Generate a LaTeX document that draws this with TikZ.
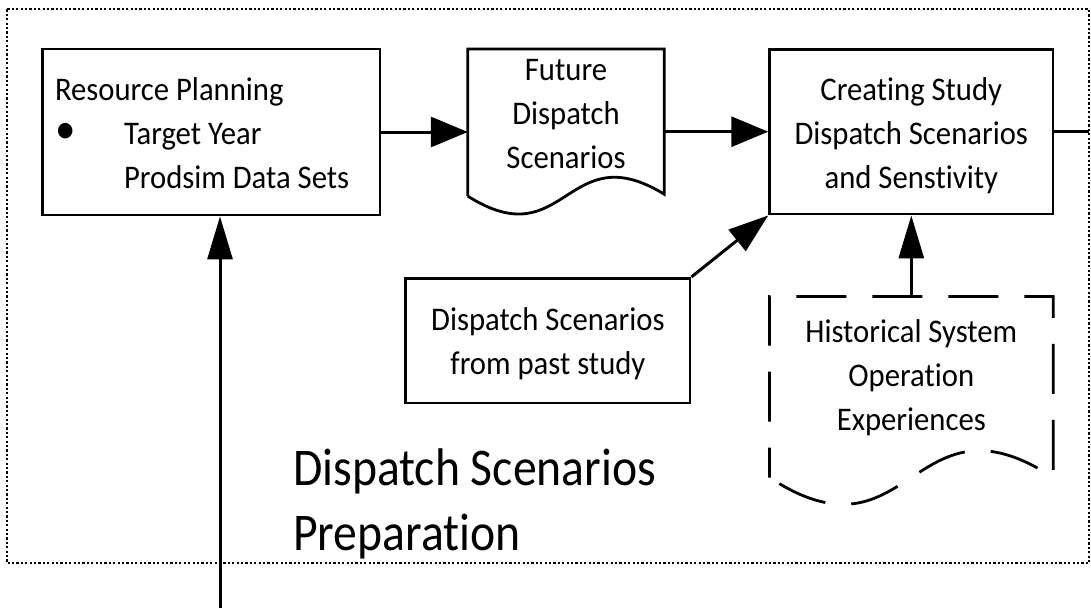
\documentclass[tikz,border=0pt]{standalone}
\usepackage{fontspec}
\setmainfont{Carlito}[FakeStretch=0.93, Ligatures=NoCommon]
\newfontfamily\titlefont{Carlito}[FakeStretch=0.9, Ligatures=NoCommon]
\usetikzlibrary{arrows.meta}
% fixed top and bottom struts so each text block sits where it should
\newcommand{\topstrut}{\rule{0pt}{30pt}}
\newcommand{\botstrut}[1]{\rule[-#1]{0pt}{#1}}
\begin{document}
\begin{tikzpicture}[x=1pt,y=-1pt,
  boxfont/.style={font=\fontsize{33}{44}\selectfont},
  procbox/.style={draw, line width=2.8pt, rectangle, boxfont, align=center,
    inner sep=0pt},
  docbox/.style={rectangle, boxfont, align=center, inner sep=0pt},
  flow/.style={line width=3pt},
  harrow/.style={flow, -{Triangle[length=37pt,width=30pt]}},
  varrow/.style={flow, -{Triangle[length=43pt,width=25pt]}},
  darrow/.style={flow, -{Triangle[length=40pt,width=27pt]}},
  frame/.style={line width=1.8pt, dash pattern=on 2.2pt off 2.2pt},
  wavy/.style={line width=2.8pt, line join=miter},
  longdash/.style={wavy, dash pattern=on 50pt off 26pt, dash phase=20pt}
]
\useasboundingbox (0,0) rectangle (1091,608);

% outer dotted frame of the preparation stage
\draw[frame] (7.3,9.3) rectangle (1089,563.3);

% resource planning input box
\node[procbox, minimum width=337.5pt, minimum height=166pt,
      text width=312.5pt, align=flush left, inner xsep=12.5pt] (rp) at (211.25,132)
  {\topstrut Resource Planning\\
   \makebox[69pt][l]{\raisebox{1pt}{\fontsize{44}{44}\selectfont •}}Target Year\\
   \hspace*{69pt}Prodsim Data Sets\botstrut{6pt}};

% future dispatch scenarios (document shape)
\node[docbox, minimum width=196pt, minimum height=146.7pt] (fd) at (566,122.6)
  {\topstrut Future\\Dispatch\\Scenarios\botstrut{27pt}};
\draw[wavy] (fd.south west) -- (fd.north west) -- (fd.north east)
  -- ([yshift=2pt]fd.south east)
  .. controls ([yshift=62pt]fd.south) and ([yshift=-62pt]fd.south) .. (fd.south west);

% study scenario creation
\node[procbox, minimum width=283.3pt, minimum height=164.7pt] (cs) at (911.3,131.7)
  {\topstrut Creating Study\\Dispatch Scenarios\\and Senstivity\botstrut{5.4pt}};

% scenarios from earlier studies
\node[procbox, minimum width=284.3pt, minimum height=124.7pt] (past) at (547.9,340.7)
  {\topstrut Dispatch Scenarios\\from past study\botstrut{6pt}};

% historical operation experiences (dashed document shape)
\node[docbox, minimum width=283.3pt, minimum height=180.6pt] (hist) at (911.3,387)
  {\topstrut Historical System\\Operation\\Experiences\botstrut{31.4pt}};
\draw[longdash] (hist.south west) -- (hist.north west) -- (hist.north east)
  -- (hist.south east)
  .. controls ([yshift=93pt]hist.south) and ([yshift=-93pt]hist.south) .. (hist.south west);

% stage title
\node[font=\titlefont\fontsize{53}{65}\selectfont, align=left, inner sep=0pt,
      anchor=base west] (title) at (293,550.7) {Dispatch Scenarios\\Preparation};

% connectors
\coordinate (src) at (220,608);
\coordinate (out) at (1089,131.7);
\draw[harrow] (rp.east) -- (rp.east -| fd.west);
\draw[harrow] (fd.east |- cs.west) -- (cs.west);
\draw[darrow] (past.north east) -- (cs.south west);
\draw[varrow] (hist.north) -- (cs.south);
\draw[varrow] (src) -- (src |- rp.south);
\draw[flow] (cs.east) -- (out);
\end{tikzpicture}
\end{document}
